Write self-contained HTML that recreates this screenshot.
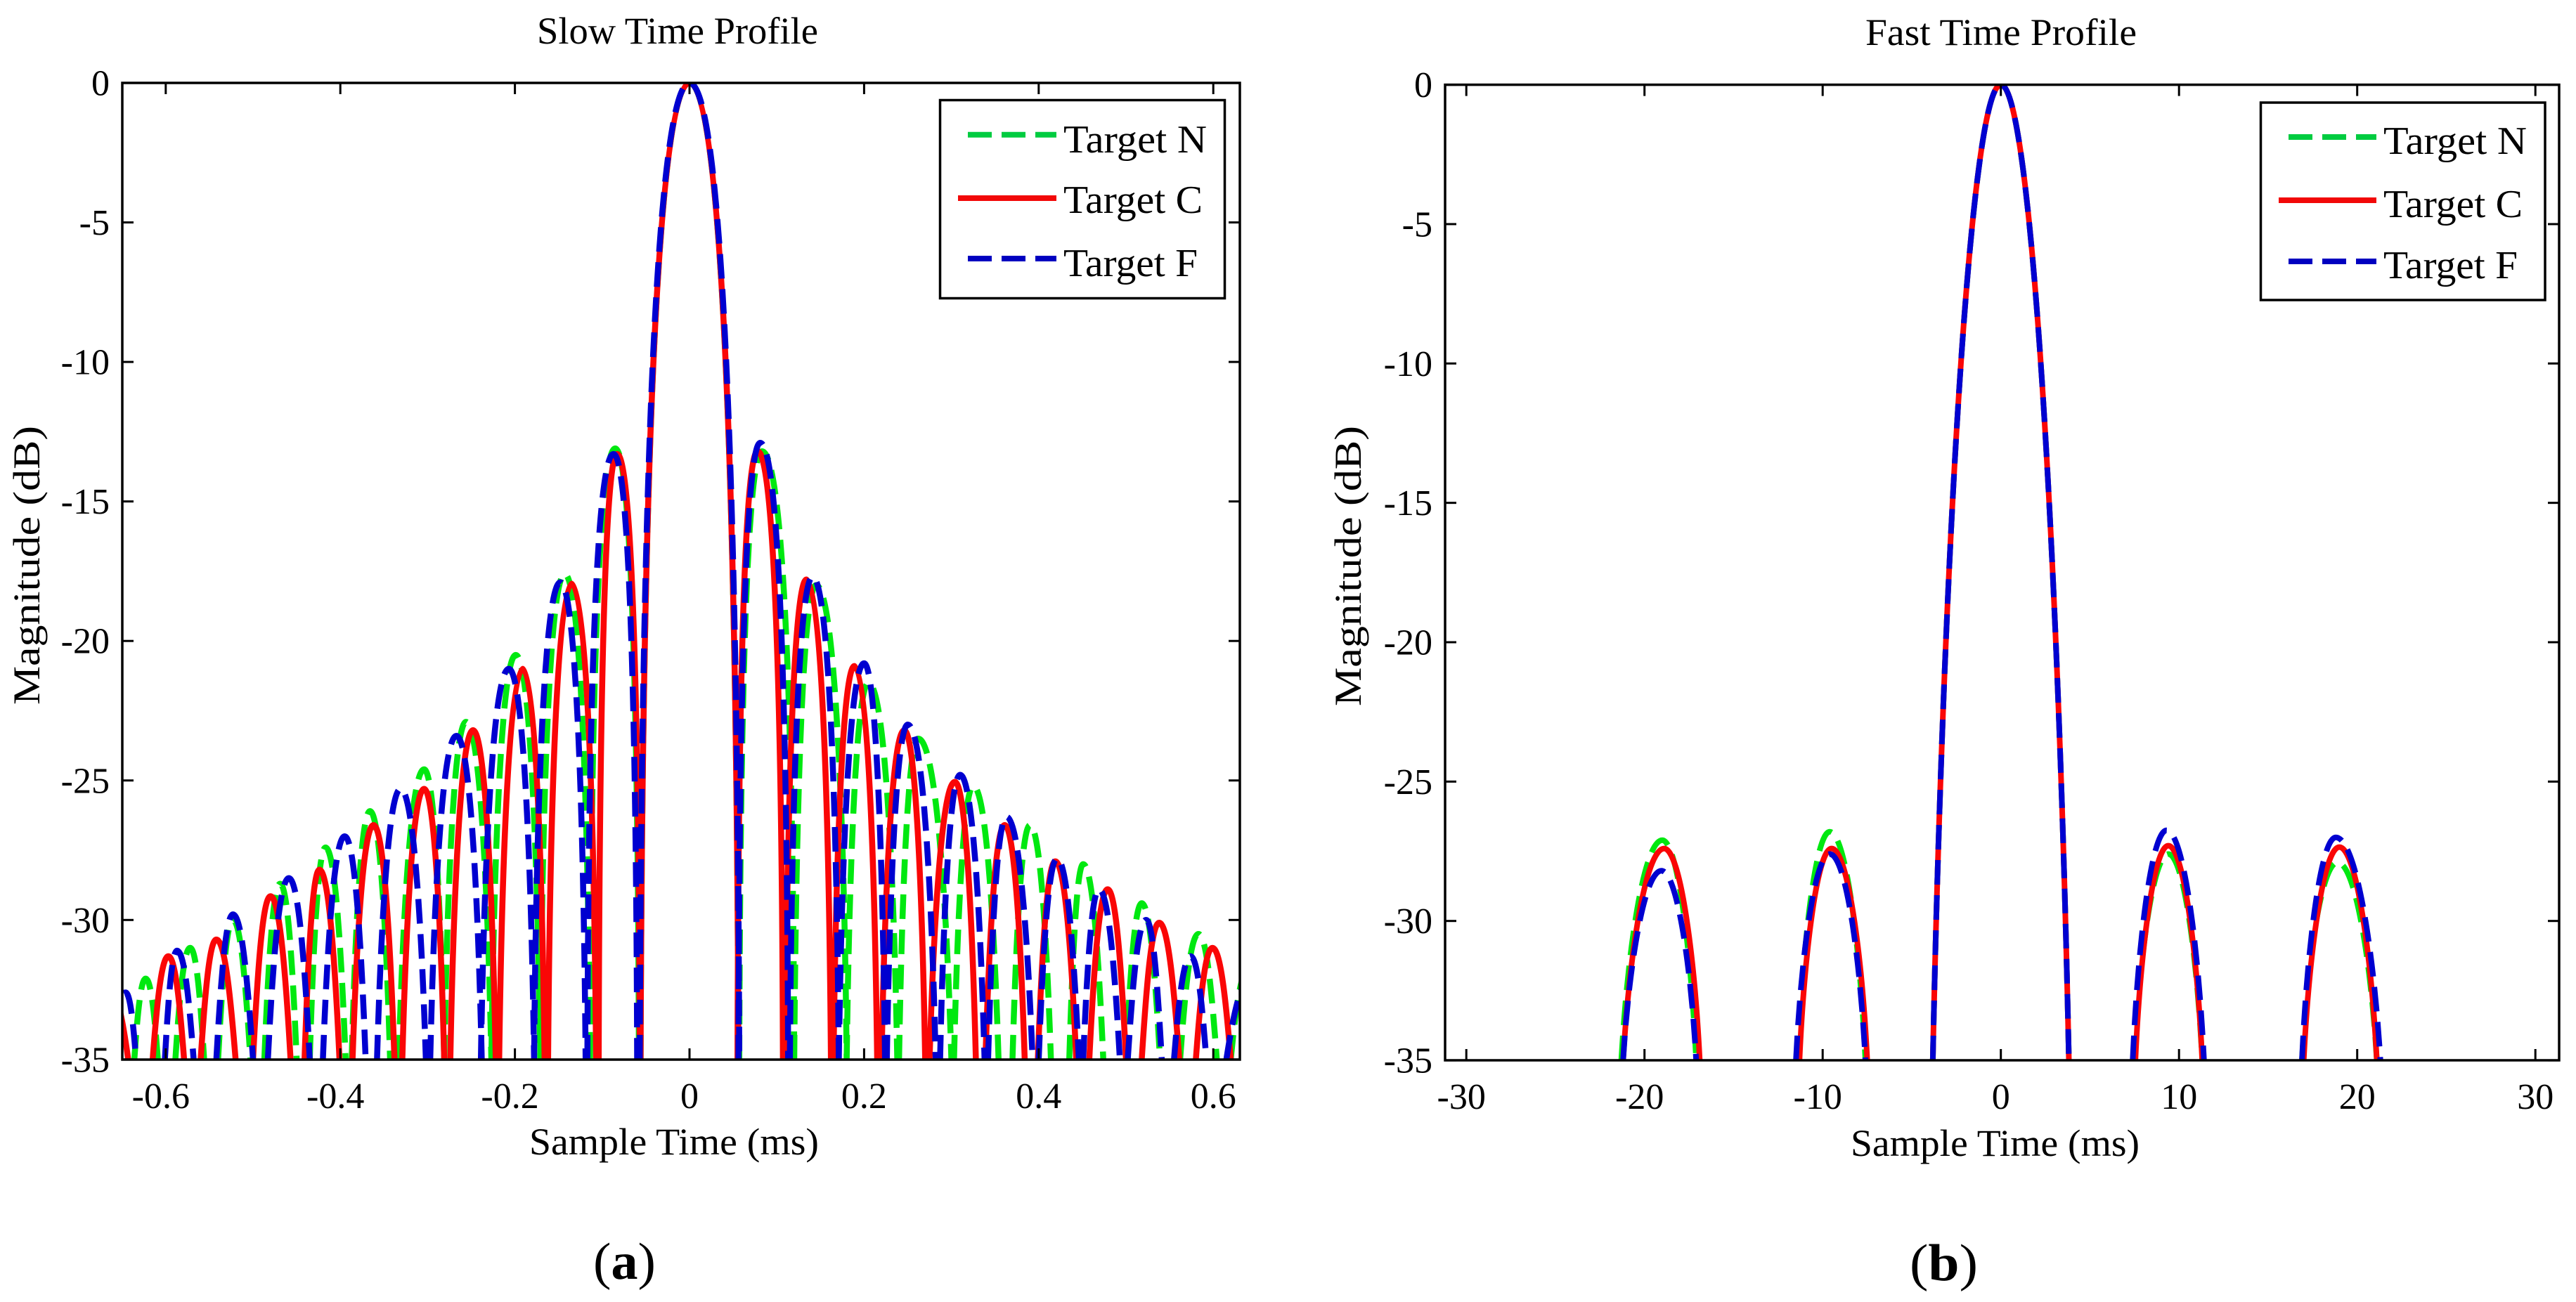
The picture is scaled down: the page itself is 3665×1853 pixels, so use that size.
<!DOCTYPE html>
<html lang="en">
<head>
<meta charset="utf-8">
<title>Slow and Fast Time Profiles</title>
<style>
html,body{margin:0;padding:0;background:#fff;}
svg{display:block;}
text{font-family:"Liberation Serif",serif;fill:#000;}
</style>
</head>
<body>
<svg id="figure" xmlns="http://www.w3.org/2000/svg" width="3665" height="1853" viewBox="0 0 3665 1853">
  <defs>
    <clipPath id="clip-slow"><rect x="174" y="118" width="1590" height="1390"/></clipPath>
    <clipPath id="clip-fast"><rect x="2056" y="120.6" width="1585" height="1388.4"/></clipPath>
  </defs>
  <rect x="0" y="0" width="3665" height="1853" fill="#fff"/>

  <g id="panel-slow">
    <text x="764" y="62" font-size="54" textLength="400" lengthAdjust="spacingAndGlyphs">Slow Time Profile</text>
    <g id="slow-curves" clip-path="url(#clip-slow)"></g>
    <g id="slow-axis"></g>
    <rect x="174" y="118" width="1590" height="1390" fill="none" stroke="#000" stroke-width="3.5"/>
    <text x="753" y="1643" font-size="54" textLength="412" lengthAdjust="spacingAndGlyphs">Sample Time (ms)</text>
    <text transform="translate(56,1003) rotate(-90)" font-size="54" textLength="397" lengthAdjust="spacingAndGlyphs">Magnitude (dB)</text>
    <g>
      <rect x="1337.5" y="142.5" width="405" height="282" fill="#fff" stroke="#000" stroke-width="3.5"/>
      <line x1="1377" x2="1503" y1="191.7" y2="191.7" stroke="#00cc40" stroke-width="8" stroke-dasharray="34 14"/>
      <text x="1513" y="217" font-size="56" textLength="204" lengthAdjust="spacingAndGlyphs">Target N</text>
      <line x1="1363" x2="1503" y1="282" y2="282" stroke="#f20808" stroke-width="8"/>
      <text x="1513" y="303" font-size="56" textLength="198" lengthAdjust="spacingAndGlyphs">Target C</text>
      <line x1="1377" x2="1503" y1="368" y2="368" stroke="#0000c0" stroke-width="8" stroke-dasharray="34 14"/>
      <text x="1513" y="393" font-size="56" textLength="191" lengthAdjust="spacingAndGlyphs">Target F</text>
    </g>
    <text x="844" y="1820" font-size="74" textLength="89" lengthAdjust="spacingAndGlyphs">(<tspan font-weight="bold">a</tspan>)</text>
  </g>

  <g id="panel-fast">
    <text x="2654" y="64" font-size="54" textLength="386" lengthAdjust="spacingAndGlyphs">Fast Time Profile</text>
    <g id="fast-curves" clip-path="url(#clip-fast)"></g>
    <g id="fast-axis"></g>
    <rect x="2056" y="120.6" width="1585" height="1388.4" fill="none" stroke="#000" stroke-width="3.5"/>
    <text x="2633" y="1645" font-size="54" textLength="411" lengthAdjust="spacingAndGlyphs">Sample Time (ms)</text>
    <text transform="translate(1936,1005) rotate(-90)" font-size="54" textLength="399" lengthAdjust="spacingAndGlyphs">Magnitude (dB)</text>
    <g>
      <rect x="3216.5" y="146" width="404.5" height="281" fill="#fff" stroke="#000" stroke-width="3.5"/>
      <line x1="3256" x2="3381" y1="195" y2="195" stroke="#00cc40" stroke-width="8" stroke-dasharray="34 14"/>
      <text x="3391" y="219" font-size="56" textLength="204" lengthAdjust="spacingAndGlyphs">Target N</text>
      <line x1="3242" x2="3381" y1="285" y2="285" stroke="#f20808" stroke-width="8"/>
      <text x="3391" y="309" font-size="56" textLength="198" lengthAdjust="spacingAndGlyphs">Target C</text>
      <line x1="3256" x2="3381" y1="372" y2="372" stroke="#0000c0" stroke-width="8" stroke-dasharray="34 14"/>
      <text x="3391" y="396" font-size="56" textLength="191" lengthAdjust="spacingAndGlyphs">Target F</text>
    </g>
    <text x="2717" y="1822" font-size="74" textLength="97" lengthAdjust="spacingAndGlyphs">(<tspan font-weight="bold">b</tspan>)</text>
  </g>
</svg>

<script>
// Tick labels
const yTicks = [0, -5, -10, -15, -20, -25, -30, -35];
const slowXTicks = [-0.6, -0.4, -0.2, 0, 0.2, 0.4, 0.6];
const fastXTicks = [-30, -20, -10, 0, 10, 20, 30];

// Slow time: each lobe is read as left -35 dB crossing, peak time, right -35 dB crossing, peak level
const slowNLeft = [-0.636,-0.589,-0.54,-0.487,-0.435,-0.387,-0.333,-0.281,-0.227,-0.171,-0.114,-0.056,0.057,0.12,0.18,0.24,0.303,0.37,0.435,0.5,0.562,0.62];
const slowNPeak = [-0.623,-0.572,-0.523,-0.469,-0.417,-0.366,-0.304,-0.256,-0.199,-0.143,-0.085,0,0.083,0.145,0.205,0.262,0.325,0.39,0.451,0.518,0.583,0.64];
const slowNRight = [-0.609,-0.556,-0.503,-0.45,-0.394,-0.343,-0.281,-0.227,-0.171,-0.114,-0.058,0.056,0.12,0.18,0.238,0.3,0.354,0.414,0.474,0.539,0.604,0.66];
const slowNLevel = [-32.1,-31,-30,-28.7,-27.4,-26.1,-24.6,-22.9,-20.5,-17.6,-13.1,0,-13.2,-18,-21.5,-23.5,-25.2,-26.6,-28,-29.4,-30.5,-31.8];

const slowCLeft = [-0.69,-0.615,-0.56,-0.5,-0.441,-0.386,-0.329,-0.274,-0.218,-0.162,-0.104,-0.056,0.055,0.11,0.165,0.22,0.275,0.339,0.399,0.458,0.518,0.58];
const slowCPeak = [-0.665,-0.597,-0.542,-0.48,-0.424,-0.362,-0.304,-0.248,-0.191,-0.135,-0.083,0,0.078,0.134,0.189,0.246,0.304,0.361,0.419,0.479,0.538,0.599];
const slowCRight = [-0.643,-0.579,-0.52,-0.457,-0.401,-0.338,-0.281,-0.222,-0.166,-0.107,-0.057,0.056,0.107,0.162,0.215,0.27,0.328,0.384,0.443,0.5,0.561,0.62];
const slowCLevel = [-32.5,-31.3,-30.7,-29.15,-28.2,-26.6,-25.3,-23.2,-21,-17.95,-13.3,0,-13.2,-17.8,-20.9,-23.2,-25.05,-26.6,-27.9,-28.9,-30.1,-31];

const slowFLeft = [-0.67,-0.601,-0.542,-0.483,-0.42,-0.358,-0.297,-0.239,-0.178,-0.117,-0.057,0.056,0.115,0.171,0.226,0.287,0.342,0.4,0.451,0.502,0.555,0.615];
const slowFPeak = [-0.646,-0.587,-0.523,-0.459,-0.395,-0.331,-0.267,-0.207,-0.148,-0.087,0,0.081,0.141,0.2,0.25,0.31,0.363,0.421,0.469,0.523,0.574,0.645];
const slowFRight = [-0.634,-0.568,-0.5,-0.435,-0.371,-0.302,-0.238,-0.178,-0.119,-0.06,0.057,0.113,0.171,0.224,0.282,0.338,0.393,0.446,0.493,0.541,0.592,0.67];
const slowFLevel = [-32.6,-31.1,-29.8,-28.5,-27,-25.3,-23.4,-21,-17.9,-13.3,0,-12.9,-17.7,-20.8,-23,-24.8,-26.3,-27.8,-28.9,-30,-31.3,-32];

// Fast time: same reading per lobe
const fastNLeft = [-21.3,-11.4,-3.82,7.5,16.9];
const fastNPeak = [-19,-9.6,0,9.4,18.9];
const fastNRight = [-17.1,-7.6,3.82,11.3,21.1];
const fastNLevel = [-27.1,-26.8,0,-27.6,-27.9];

const fastCLeft = [-21.2,-11.3,-3.82,7.55,17];
const fastCPeak = [-18.9,-9.5,0,9.4,19];
const fastCRight = [-16.9,-7.5,3.82,11.3,21.1];
const fastCLevel = [-27.4,-27.4,0,-27.3,-27.35];

const fastFLeft = [-21.2,-11.5,-3.82,7.4,16.9];
const fastFPeak = [-19.05,-9.6,0,9.3,18.8];
const fastFRight = [-17.1,-7.6,3.82,11.4,21.3];
const fastFLevel = [-28.2,-27.6,0,-26.75,-27];

const SVG_NS = 'http://www.w3.org/2000/svg';

function slowX(v){ return 981 + v * 1242; }
function slowY(v){ return 118 - v * 39.71; }
function fastX(v){ return 2846.7 + v * 25.35; }
function fastY(v){ return 120.6 - v * 39.67; }

const FLOOR_DB = -35;

// Slow-time lobes are sinc-like: tall lobes have steep flanks, low ones look rounder.
function slowShape(h){
  const f = Math.max(0, Math.min(1, (h - 5) / 17));
  return { a: 0.25 - 0.2 * f, b: 0.5 + 0.25 * f, c: 0.55 - 0.05 * f };
}
// Fast-time lobes are weighted and close to parabolic in dB at every height.
function fastShape(h){
  return { a: 0.15, b: 0.5, c: 0.55 };
}

function lobePath(left, peak, right, level, xFn, yFn, shapeFn){
  let d = '';
  for (let i = 0; i < peak.length; i++) {
    const s = shapeFn(level[i] - FLOOR_DB);
    const x0 = xFn(left[i]);
    const xp = xFn(peak[i]);
    const x1 = xFn(right[i]);
    const yb = yFn(FLOOR_DB);
    const yp = yFn(level[i]);
    const y1 = yb + (yp - yb) * s.b;
    const wl = xp - x0;
    const wr = x1 - xp;
    d += 'M' + x0.toFixed(1) + ' ' + yb.toFixed(1);
    d += 'C' + (x0 + s.a * wl).toFixed(1) + ' ' + y1.toFixed(1) + ' ' + (x0 + s.c * wl).toFixed(1) + ' ' + yp.toFixed(1) + ' ' + xp.toFixed(1) + ' ' + yp.toFixed(1);
    d += 'C' + (x1 - s.c * wr).toFixed(1) + ' ' + yp.toFixed(1) + ' ' + (x1 - s.a * wr).toFixed(1) + ' ' + y1.toFixed(1) + ' ' + x1.toFixed(1) + ' ' + yb.toFixed(1);
  }
  return d;
}

function drawSeries(parentId, seriesName, left, peak, right, level, xFn, yFn, shapeFn, color, width, dash){
  const el = document.createElementNS(SVG_NS, 'path');
  
  
  el.setAttribute('d', lobePath(left, peak, right, level, xFn, yFn, shapeFn));
  el.setAttribute('fill', 'none');
  el.setAttribute('stroke', color);
  el.setAttribute('stroke-width', width);
  if (dash) el.setAttribute('stroke-dasharray', dash);
  document.getElementById(parentId).appendChild(el);
}

function tickLine(parent, name, x1, y1, x2, y2){
  const el = document.createElementNS(SVG_NS, 'line');
  
  
  el.setAttribute('x1', x1);
  el.setAttribute('y1', y1);
  el.setAttribute('x2', x2);
  el.setAttribute('y2', y2);
  el.setAttribute('stroke', '#000');
  el.setAttribute('stroke-width', '3');
  parent.appendChild(el);
}

function tickText(parent, name, x, y, anchor, label){
  const el = document.createElementNS(SVG_NS, 'text');
  
  
  el.setAttribute('x', x);
  el.setAttribute('y', y);
  el.setAttribute('text-anchor', anchor);
  el.setAttribute('font-size', '52');
  el.textContent = label;
  parent.appendChild(el);
}

function drawAxes(prefix, parentId, xTicks, xFn, yFn, left, right, top, bottom, yLabelEnd, xLabelY, negShift){
  const g = document.getElementById(parentId);
  const len = 16;
  xTicks.forEach(function(v){
    const x = xFn(v);
    tickLine(g, prefix + '-x-tick-bottom', x, bottom, x, bottom - len);
    tickLine(g, prefix + '-x-tick-top', x, top, x, top + len);
    tickText(g, prefix + '-x-tick-label', x + (v < 0 ? negShift : 0), xLabelY, 'middle', String(v));
  });
  yTicks.forEach(function(v){
    const y = yFn(v);
    tickLine(g, prefix + '-y-tick-left', left, y, left + len, y);
    tickLine(g, prefix + '-y-tick-right', right, y, right - len, y);
    tickText(g, prefix + '-y-tick-label', yLabelEnd, y + 17.5, 'end', String(v));
  });
}

const GREEN = '#00e810';
const RED = '#fa0606';
const BLUE = '#0000d0';
const DASH = '35 15';

drawSeries('slow-curves', 'slow-series-target-n', slowNLeft, slowNPeak, slowNRight, slowNLevel, slowX, slowY, slowShape, GREEN, 8.5, DASH);
drawSeries('slow-curves', 'slow-series-target-c', slowCLeft, slowCPeak, slowCRight, slowCLevel, slowX, slowY, slowShape, RED, 8.5, null);
drawSeries('slow-curves', 'slow-series-target-f', slowFLeft, slowFPeak, slowFRight, slowFLevel, slowX, slowY, slowShape, BLUE, 8.5, DASH);

drawSeries('fast-curves', 'fast-series-target-n', fastNLeft, fastNPeak, fastNRight, fastNLevel, fastX, fastY, fastShape, GREEN, 8, DASH);
drawSeries('fast-curves', 'fast-series-target-c', fastCLeft, fastCPeak, fastCRight, fastCLevel, fastX, fastY, fastShape, RED, 8, null);
drawSeries('fast-curves', 'fast-series-target-f', fastFLeft, fastFPeak, fastFRight, fastFLevel, fastX, fastY, fastShape, BLUE, 8, DASH);

drawAxes('slow', 'slow-axis', slowXTicks, slowX, slowY, 174, 1764, 118, 1508, 156, 1577, -7);
drawAxes('fast', 'fast-axis', fastXTicks, fastX, fastY, 2056, 3641, 120.6, 1509, 2038, 1578, -7);
</script>
</body>
</html>
